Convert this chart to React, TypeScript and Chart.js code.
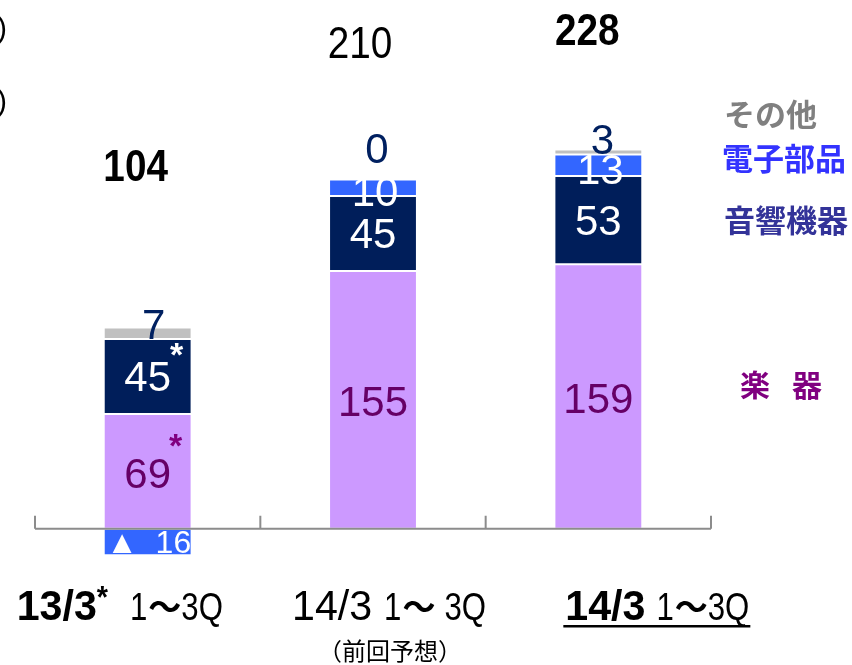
import React, { useEffect, useRef } from "react";
import { Chart, registerables } from "chart.js";

Chart.register(...registerables);

const categories = ["13/3", "14/3", "14/3"];
const periodLabel = "1～3Q";
const instruments = [69, 155, 159];
const audio = [45, 45, 53];
const components = [-16, 10, 13];
const others = [7, 0, 3];
const totals = [104, 210, 228];

const C_PURPLE = "#CC99FF";
const C_NAVY = "#001E5A";
const C_BLUE = "#3366FF";
const C_GRAY = "#C0C0C0";

const SANS = "'Liberation Sans', Arial, sans-serif";
const CJK = "'Noto Sans CJK JP', sans-serif";

function drawScaled(ctx: any, text: string, x: number, y: number, font: string, sx: number) {
  ctx.save();
  ctx.font = font;
  ctx.translate(x, y);
  ctx.scale(sx, 1);
  ctx.fillText(text, 0, 0);
  const w = ctx.measureText(text).width * sx;
  ctx.restore();
  return w;
}

const overlay = {
  id: "overlay",
  afterDatasetsDraw(chart: any) {
    const ctx = chart.ctx;
    const xs = chart.scales.x;
    const ys = chart.scales.y;
    const y0 = ys.getPixelForValue(0);
    const area = chart.chartArea;
    ctx.save();

    // axis line and ticks
    ctx.strokeStyle = "#8C8C8C";
    ctx.lineWidth = 2;
    ctx.beginPath();
    ctx.moveTo(area.left, y0);
    ctx.lineTo(area.right, y0);
    const n = categories.length;
    const step = (area.right - area.left) / n;
    for (let i = 0; i <= n; i++) {
      const x = area.left + step * i;
      ctx.moveTo(x, y0 - 13);
      ctx.lineTo(x, y0);
    }
    ctx.stroke();

    const segMid = (dsIndex: number, i: number) => {
      const el = chart.getDatasetMeta(dsIndex).data[i];
      return { x: el.x, y: (el.y + el.base) / 2, top: Math.min(el.y, el.base), bottom: Math.max(el.y, el.base) };
    };

    ctx.textAlign = "center";
    ctx.textBaseline = "middle";

    // instruments labels
    ctx.font = `42px ${SANS}`;
    ctx.fillStyle = "#660066";
    instruments.forEach((v, i) => {
      const m = segMid(0, i);
      ctx.fillText(String(v), m.x, m.y + 5);
    });
    // audio labels
    ctx.fillStyle = "#FFFFFF";
    audio.forEach((v, i) => {
      const m = segMid(1, i);
      ctx.fillText(String(v), m.x, m.y + 3);
    });
    // components
    components.forEach((v, i) => {
      const m = segMid(2, i);
      if (v < 0) {
        ctx.font = `32px ${SANS}`;
        ctx.fillText("▲  " + Math.abs(v), m.x + 1, m.y + 2);
        ctx.font = `42px ${SANS}`;
      } else {
        ctx.fillText(String(v), m.x + 2, m.y + 7);
      }
    });
    // others
    const othersDy = [0, -28, -7];
    ctx.fillStyle = "#002060";
    others.forEach((v, i) => {
      const m = segMid(3, i);
      ctx.fillText(String(v), m.x + (i === 0 ? 6 : 4), m.top + othersDy[i]);
    });

    // asterisks
    {
      const a = segMid(1, 0);
      ctx.font = `bold 34px ${SANS}`;
      ctx.fillStyle = "#FFFFFF";
      ctx.fillText("*", a.x + 29, a.top + 18);
      const b = segMid(0, 0);
      ctx.fillStyle = "#800080";
      ctx.fillText("*", b.x + 28, b.top + 34);
    }

    // totals
    const totalPos = [
      { bold: true, dx: -12, y: 169 },
      { bold: false, dx: -13, y: 46 },
      { bold: true, dx: -11, y: 33 },
    ];
    ctx.fillStyle = "#000000";
    totals.forEach((v, i) => {
      const x = xs.getPixelForValue(i);
      const p = totalPos[i];
      ctx.textAlign = "center";
      ctx.save();
      ctx.translate(x + p.dx, p.y);
      ctx.scale(0.88, 1);
      ctx.font = `${p.bold ? "bold " : ""}44px ${SANS}`;
      ctx.fillText(String(v), 0, 0);
      ctx.restore();
    });

    // category labels
    ctx.textAlign = "left";
    ctx.textBaseline = "alphabetic";
    const lblY = 620;
    const catCfg = [
      { dx: -131, bold: true, star: true, gap: 22, space: false, underline: false },
      { dx: -81, bold: false, star: false, gap: 12, space: true, underline: false },
      { dx: -33, bold: true, star: false, gap: 11, space: false, underline: true },
    ];
    const [subA, subB] = periodLabel.split("～");
    ctx.fillStyle = "#000";
    catCfg.forEach((c, i) => {
      const cx = xs.getPixelForValue(i);
      let x = cx + c.dx;
      const x0 = x;
      x += drawScaled(ctx, categories[i], x, lblY, `${c.bold ? "bold " : ""}42px ${SANS}`, 0.98);
      if (c.star) {
        x += drawScaled(ctx, "*", x, lblY - 12, `bold 32px ${SANS}`, 0.9);
      }
      x += c.gap;
      x += drawScaled(ctx, subA, x, lblY, `38px ${SANS}`, 0.82);
      x += 1;
      x += drawScaled(ctx, "～", x, lblY - 1, `bold 33px ${CJK}`, 1);
      if (c.space) x += 9;
      x += drawScaled(ctx, subB, x, lblY, `38px ${SANS}`, 0.82);
      if (c.underline) {
        ctx.fillRect(x0 - 2, lblY + 5, x - x0 + 3, 2.5);
      }
    });
    ctx.textAlign = "center";
    ctx.textBaseline = "middle";
    ctx.font = `24px ${CJK}`;
    ctx.fillText("（前回予想）", xs.getPixelForValue(1) + 17, 651);

    // legend-like labels
    ctx.textAlign = "left";
    ctx.textBaseline = "middle";
    ctx.font = `bold 31px ${CJK}`;
    ctx.fillStyle = "#808080";
    ctx.fillText("その他", 724, 114);
    ctx.fillStyle = "#3333FF";
    ctx.fillText("電子部品", 722, 158);
    ctx.fillStyle = "#333399";
    ctx.fillText("音響機器", 724, 220);
    ctx.fillStyle = "#800080";
    ctx.font = `bold 30px ${CJK}`;
    ctx.fillText("楽", 740, 385);
    ctx.fillText("器", 792, 385);

    // cut-off unit labels at left edge
    ctx.fillStyle = "#000";
    ctx.font = `30px ${SANS}`;
    ctx.fillText(")", -3, 30);
    ctx.fillText(")", -3, 103);

    ctx.restore();
  },
};

export default function App() {
  const ref = useRef<HTMLCanvasElement>(null);
  useEffect(() => {
    if (!ref.current) return;
    const ds = (label: string, data: number[], color: string) => ({
      label,
      data,
      backgroundColor: color,
      borderColor: "#FFFFFF",
      borderWidth: 1,
      borderSkipped: false,
      barPercentage: 0.39,
      categoryPercentage: 1,
    });
    const chart = new Chart(ref.current, {
      type: "bar",
      data: {
        labels: categories,
        datasets: [
          ds("楽器", instruments, C_PURPLE),
          ds("音響機器", audio, C_NAVY),
          ds("電子部品", components, C_BLUE),
          ds("その他", others, C_GRAY),
        ],
      },
      options: {
        responsive: false,
        animation: false,
        layout: { padding: { left: 35, right: 141, top: 63, bottom: 103 } },
        plugins: { legend: { display: false }, tooltip: { enabled: false } },
        scales: {
          x: { stacked: true, display: false },
          y: { stacked: true, display: false, min: -20, max: 280 },
        },
      },
      plugins: [overlay],
    });
    return () => chart.destroy();
  }, []);
  return (
    <div style={{ position: "absolute", left: 0, top: 0, width: 852, height: 665 }}>
      <canvas ref={ref} width={852} height={665} />
    </div>
  );
}
